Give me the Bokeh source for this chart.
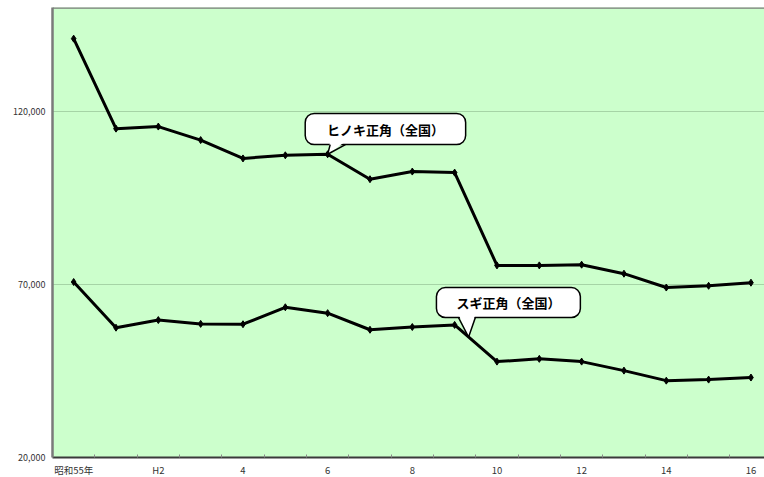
from bokeh.plotting import figure
from bokeh.models import FixedTicker, ColumnDataSource, Span
from bokeh.core.properties import value
from bokeh.embed import file_html
from bokeh.resources import INLINE

# Years: 昭和55年, one unlabeled year, then 平成2年 .. 16年
year_labels = ["昭和55年", "", "H2", "", "4", "", "6", "", "8", "", "10", "", "12", "", "14", "", "16"]
hinoki = [141000, 115000, 115600, 111700, 106400, 107300, 107600, 100400, 102600,
          102300, 75500, 75500, 75700, 73100, 69100, 69600, 70500]
sugi = [70700, 57500, 59700, 58600, 58500, 63400, 61700, 56900, 57700,
        58300, 47700, 48500, 47700, 45100, 42200, 42500, 43100]
y_ticks = [20000, 70000, 120000]
y_tick_labels = ["20,000", "70,000", "120,000"]
series_names = ["ヒノキ正角（全国）", "スギ正角（全国）"]

xs = list(range(len(year_labels)))
JP = "Noto Sans CJK JP"

p = figure(frame_width=712, frame_height=450, output_backend="svg", toolbar_location=None,
           x_range=(-0.5, 16.32), y_range=(20000, 150000))
p.min_border_left = 52
p.min_border_right = 0
p.min_border_top = 7
p.min_border_bottom = 20
p.background_fill_color = "#ccffcc"
p.border_fill_color = "white"
p.outline_line_color = None

# y axis: its line forms the left edge of the frame
p.yaxis.ticker = FixedTicker(ticks=y_ticks)
p.yaxis.major_label_overrides = {t: s for t, s in zip(y_ticks, y_tick_labels)}
p.yaxis.axis_line_color = "#7a7a7a"
p.yaxis.axis_line_width = 2.5
p.yaxis.major_tick_line_color = None
p.yaxis.major_tick_in = 0
p.yaxis.major_tick_out = 0
p.yaxis.minor_tick_line_color = None
p.yaxis.major_label_standoff = 7
p.yaxis.major_label_text_font = JP
p.yaxis.major_label_text_font_size = "9px"
p.yaxis.major_label_text_color = "#333333"

# x axis
p.xaxis.ticker = FixedTicker(ticks=xs, minor_ticks=[x + 0.5 for x in xs[:-1]])
p.xaxis.major_label_overrides = {x: s for x, s in zip(xs, year_labels)}
p.xaxis.axis_line_color = "#3a3a3a"
p.xaxis.axis_line_width = 2
p.xaxis.major_tick_line_color = None
p.xaxis.major_tick_in = 0
p.xaxis.major_tick_out = 0
p.xaxis.minor_tick_line_color = "#888888"
p.xaxis.minor_tick_in = 3
p.xaxis.minor_tick_out = 0
p.xaxis.major_label_standoff = 5
p.xaxis.major_label_text_font = JP
p.xaxis.major_label_text_font_size = "9.5px"
p.xaxis.major_label_text_color = "#333333"

p.xgrid.grid_line_color = None
p.ygrid.grid_line_color = "#a6d4a6"
p.ygrid.grid_line_width = 1

# top edge of the frame
p.add_layout(Span(location=150000, dimension="width", line_color="#7a7a7a", line_width=2.5))

src = ColumnDataSource(dict(x=xs, hinoki=hinoki, sugi=sugi))
for col in ("hinoki", "sugi"):
    p.line("x", col, source=src, line_color="black", line_width=3)
    p.scatter("x", col, source=src, marker="diamond", size=7,
              fill_color="black", line_color="black")


def callout(label, left, right, bottom, top, tail_x0, tail_x1, tip_x, tip_y):
    # rounded speech box with a pointer down to the series
    p.quad(left=[left], right=[right], bottom=[bottom], top=[top],
           fill_color="white", line_color="black", line_width=1.5, border_radius=9)
    p.patch([tail_x0, tail_x1, tip_x], [bottom + 900, bottom + 900, tip_y],
            fill_color="white", line_color=None)
    p.line([tail_x0, tip_x, tail_x1], [bottom, tip_y, bottom],
           line_color="black", line_width=1.5)
    p.text([(left + right) / 2], [(top + bottom) / 2], text=[label],
           text_font=value(JP), text_font_style="bold", text_font_size="13px",
           text_align="center", text_baseline="middle", text_color="black")


callout(series_names[0], 5.47, 9.26, 110400, 119400, 6.06, 6.42, 6, hinoki[6])
tip = 9.33
callout(series_names[1], 8.57, 11.97, 60450, 69100, 9.09, 9.49,
        tip, sugi[9] + (sugi[10] - sugi[9]) * (tip - 9))

open("out.html", "w").write(file_html(p, INLINE))
